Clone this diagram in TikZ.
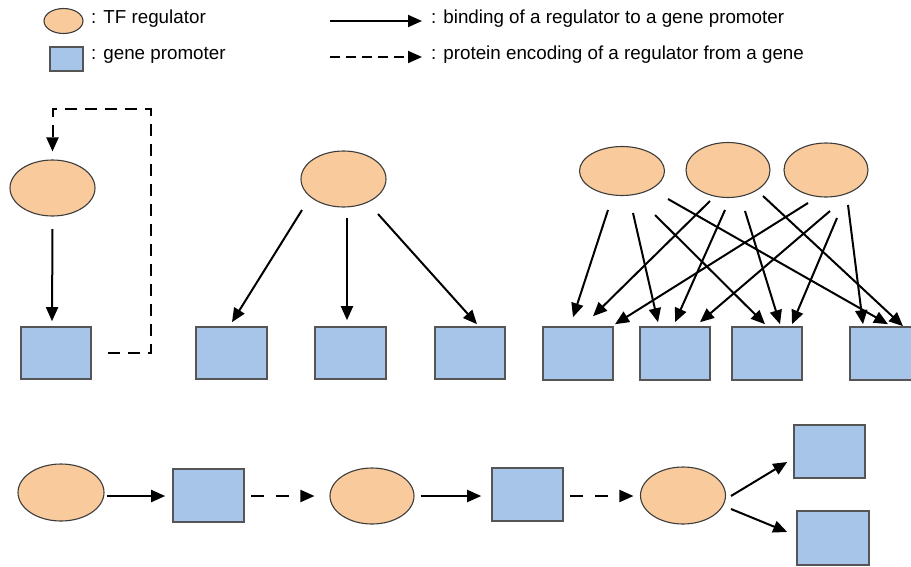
\documentclass[tikz,border=0pt]{standalone}
\usepackage{fontspec}
\setmainfont{Liberation Sans}
\usetikzlibrary{arrows.meta,shapes.geometric}

\definecolor{tfFill}{HTML}{F9CB9C}
\definecolor{tfLine}{HTML}{3C3C3C}
\definecolor{gpFill}{HTML}{A7C4E9}
\definecolor{gpLine}{HTML}{555555}

\tikzset{
  tf/.style={ellipse, draw=tfLine, fill=tfFill, line width=1.1pt, inner sep=0pt,
             minimum width=85pt, minimum height=55pt},
  gp/.style={rectangle, draw=gpLine, fill=gpFill, line width=1.6pt, inner sep=0pt,
             minimum width=71pt, minimum height=53pt},
  bind/.style={line width=2pt, -{Triangle[length=14pt,width=12pt]}},
  enc/.style={line width=2pt, dash pattern=on 12pt off 8pt, -{Triangle[length=14pt,width=12pt]}},
  lbl/.style={anchor=west, inner sep=0pt, text height=0.72em, text depth=0.2em,
              font=\fontsize{18.8}{22}\selectfont},
}

\begin{document}
\begin{tikzpicture}[x=1pt, y=-1pt]
\useasboundingbox (0,0) rectangle (911,566);

% ---------- legend ----------
\node[tf, minimum width=39pt, minimum height=25pt] (lgE) at (63.5,21) {};
\node[gp, minimum width=33pt, minimum height=24pt] (lgS) at (66.5,59) {};
\node[lbl] (lgEt) at (91,21) {: TF regulator};
\node[lbl] (lgSt) at (91,57) {: gene promoter};
\coordinate (lgA1) at (330,21);
\coordinate (lgA2) at (422,21);
\coordinate (lgB1) at (330,57);
\coordinate (lgB2) at (422,57);
\draw[bind] (lgA1) -- (lgA2);
\draw[enc, dash pattern=on 10pt off 6pt] (lgB1) -- (lgB2);
\node[lbl] (lgAt) at (431,21) {: binding of a regulator to a gene promoter};
\node[lbl] (lgBt) at (431,57) {: protein encoding of a regulator from a gene};

% ---------- self-regulation ----------
\node[tf, minimum height=56pt] (p1E) at (52.5,188) {};
\node[gp, minimum width=70pt, minimum height=52pt] (p1S) at (56,353) {};
\draw[bind] ([shift={(0,41)}]p1E.center) -- ([shift={(-4,-5)}]p1S.north);
\draw[enc] ([xshift=16pt]p1S.east) -- ++(43,0) |- ([yshift=50pt]p1E.north)
           -- ([yshift=8pt]p1E.north);

% ---------- one regulator, several promoters ----------
\node[tf, minimum height=56pt] (p2E) at (343.5,179) {};
\node[gp, minimum height=52pt] (p2S1) at (231.5,353) {};
\node[gp, minimum height=52pt] (p2S2) at (350.5,353) {};
\node[gp, minimum width=70pt, minimum height=52pt] (p2S3) at (470,353) {};
\draw[bind] ([shift={(-41.5,31)}]p2E.center) -- ([shift={(0.5,-4)}]p2S1.north);
\draw[bind] ([shift={(3.5,39)}]p2E.center) -- ([shift={(-3.5,-6)}]p2S2.north);
\draw[bind] ([shift={(34.5,35)}]p2E.center) -- ([shift={(7,-2)}]p2S3.north);

% ---------- many regulators, many promoters ----------
\node[tf, minimum width=85pt, minimum height=49pt] (E1) at (622,171) {};
\node[tf, minimum width=84pt, minimum height=55pt] (E2) at (728,170) {};
\node[tf, minimum width=84pt, minimum height=54pt] (E3) at (826,170) {};
\node[gp, minimum width=70pt] (S1) at (578,353.5) {};
\node[gp, minimum width=70pt] (S2) at (675,353.5) {};
\node[gp, minimum width=70pt] (S3) at (767,353.5) {};
\node[gp, minimum width=70pt] (S4) at (885,353.5) {};
\draw[bind] ([shift={(-14,39)}]E1.center) -- ([shift={(-5,-9)}]S1.north);
\draw[bind] ([shift={(11,42)}]E1.center)  -- ([shift={(-17,-4)}]S2.north);
\draw[bind] ([shift={(33,44)}]E1.center)  -- ([shift={(-2,-2)}]S3.north);
\draw[bind] ([shift={(46,28)}]E1.center)  -- ([shift={(3,-2)}]S4.north);
\draw[bind] ([shift={(-18,31)}]E2.center) -- ([shift={(15,-10)}]S1.north);
\draw[bind] ([shift={(-3,40)}]E2.center)  -- ([shift={(0,-4)}]S2.north);
\draw[bind] ([shift={(17,41)}]E2.center)  -- ([shift={(13,-2)}]S3.north);
\draw[bind] ([shift={(35,26)}]E2.center)  -- ([shift={(18,0)}]S4.north);
\draw[bind] ([shift={(-18,33)}]E3.center) -- ([shift={(37,-2)}]S1.north);
\draw[bind] ([shift={(4,41)}]E3.center)   -- ([shift={(25,-4)}]S2.north);
\draw[bind] ([shift={(11,48)}]E3.center)  -- ([shift={(25,-2)}]S3.north);
\draw[bind] ([shift={(22,35)}]E3.center)  -- ([shift={(-22,-2)}]S4.north);

% ---------- cascade ----------
\node[tf, minimum width=86pt, minimum height=57pt] (B1) at (61,492.5) {};
\node[gp] (B2) at (208.5,495.5) {};
\node[tf, minimum width=84pt, minimum height=56pt] (B3) at (372,496) {};
\node[gp] (B4) at (527.5,494.5) {};
\node[tf, minimum width=85pt, minimum height=57pt] (B5) at (683,495.5) {};
\node[gp] (B6) at (829.5,451.5) {};
\node[gp, minimum width=72pt, minimum height=54pt] (B7) at (833,538) {};
\draw[bind] ([shift={(2,3.5)}]B1.east) -- ([shift={(-7,0.5)}]B2.west);
\draw[enc, dash pattern=on 13pt off 12pt] ([shift={(6,0.5)}]B2.east) -- ([shift={(-15,0)}]B3.west);
\draw[bind] ([shift={(6,0)}]B3.east) -- ([shift={(-10,1.5)}]B4.west);
\draw[enc, dash pattern=on 13pt off 12pt] ([shift={(6,1.5)}]B4.east) -- ([shift={(-6.5,0.5)}]B5.west);
\draw[bind] ([shift={(48,0.5)}]B5.center) -- ([shift={(-6,10.5)}]B6.west);
\draw[bind] ([shift={(48,13.5)}]B5.center) -- ([shift={(-9,-6)}]B7.west);
\end{tikzpicture}
\end{document}
